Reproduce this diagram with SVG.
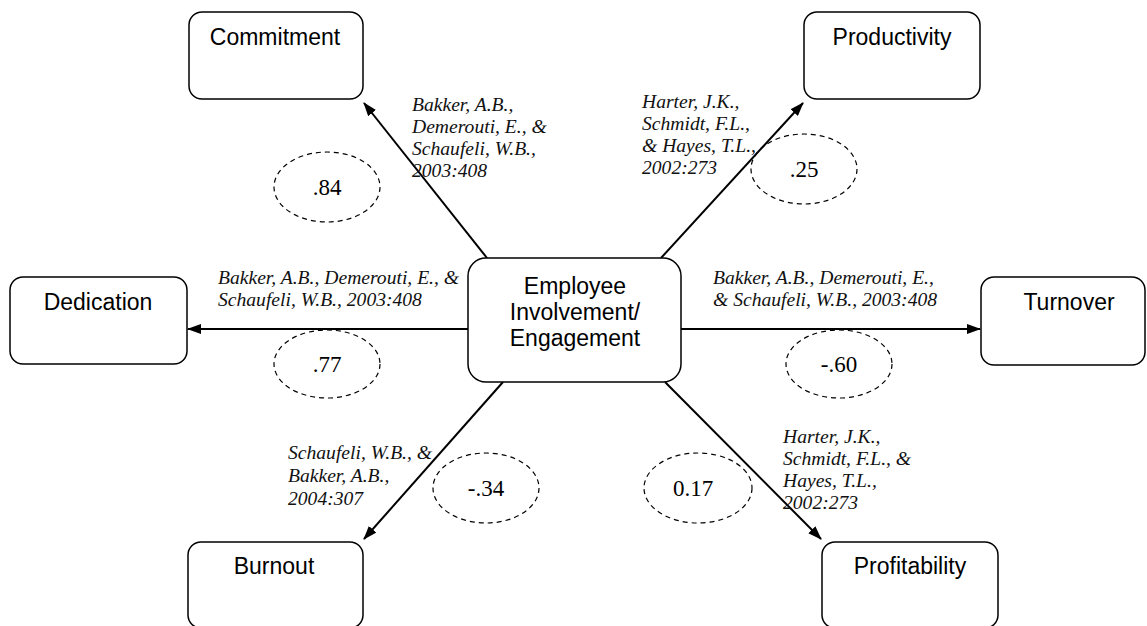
<svg xmlns="http://www.w3.org/2000/svg" width="1147" height="626" viewBox="0 0 1147 626">
  <style>
    .box { fill: #fff; stroke: #000; stroke-width: 1.5; }
    .lbl { font-family: "Liberation Sans", Arial, sans-serif; font-size: 23px; fill: #000; text-anchor: middle; }
    .cite { font-family: "Liberation Serif", "Times New Roman", serif; font-style: italic; font-size: 19.6px; fill: #111; }
    .coef { fill: none; stroke: #000; stroke-width: 1.2; stroke-dasharray: 5 4; }
    .num { font-family: "Liberation Serif", "Times New Roman", serif; font-size: 23px; fill: #000; text-anchor: middle; }
    .link { stroke: #000; stroke-width: 2; fill: none; marker-end: url(#arrow); }
  </style>
  <defs>
    <marker id="arrow" viewBox="0 0 14 10" refX="13" refY="5" markerWidth="14" markerHeight="10" markerUnits="userSpaceOnUse" orient="auto">
      <path d="M0,0 L14,5 L0,10 Z" fill="#000"/>
    </marker>
  </defs>
  <rect width="1147" height="626" fill="#fff"/>

  <!-- connectors from the central node -->
  <g id="connectors">
    <line class="link" x1="487" y1="258" x2="364" y2="103"/>
    <line class="link" x1="661" y1="258" x2="803" y2="103"/>
    <line class="link" x1="468" y1="329" x2="188" y2="329"/>
    <line class="link" x1="681" y1="329" x2="980" y2="329"/>
    <line class="link" x1="503" y1="382" x2="364" y2="539"/>
    <line class="link" x1="665" y1="382" x2="821" y2="539"/>
  </g>

  <g id="center">
    <rect class="box" x="468" y="258" width="213" height="124" rx="18"/>
    <text class="lbl" x="575" y="294">Employee</text>
    <text class="lbl" x="575" y="320">Involvement/</text>
    <text class="lbl" x="575" y="346">Engagement</text>
  </g>

  <g id="commitment">
    <rect class="box" x="189" y="12" width="174" height="87" rx="13"/>
    <text class="lbl" x="275" y="45">Commitment</text>
  </g>
  <g id="productivity">
    <rect class="box" x="804" y="12" width="176" height="87" rx="13"/>
    <text class="lbl" x="892" y="45">Productivity</text>
  </g>
  <g id="dedication">
    <rect class="box" x="10" y="277" width="177" height="87" rx="13"/>
    <text class="lbl" x="98" y="310">Dedication</text>
  </g>
  <g id="turnover">
    <rect class="box" x="981" y="277" width="164" height="88" rx="13"/>
    <text class="lbl" x="1069" y="310">Turnover</text>
  </g>
  <g id="burnout">
    <rect class="box" x="188" y="542" width="175" height="86" rx="13"/>
    <text class="lbl" x="274" y="574">Burnout</text>
  </g>
  <g id="profitability">
    <rect class="box" x="822" y="542" width="176" height="86" rx="13"/>
    <text class="lbl" x="910" y="574">Profitability</text>
  </g>

  <!-- source citations -->
  <g id="cite-commitment" class="cite">
    <text x="412" y="111">Bakker, A.B.,</text>
    <text x="412" y="133">Demerouti, E., &amp;</text>
    <text x="412" y="155">Schaufeli, W.B.,</text>
    <text x="412" y="177">2003:408</text>
  </g>
  <g id="cite-productivity" class="cite">
    <text x="642" y="108">Harter, J.K.,</text>
    <text x="642" y="130">Schmidt, F.L.,</text>
    <text x="642" y="152">&amp; Hayes, T.L.,</text>
    <text x="642" y="174">2002:273</text>
  </g>
  <g id="cite-dedication" class="cite">
    <text x="218" y="284">Bakker, A.B., Demerouti, E., &amp;</text>
    <text x="218" y="306">Schaufeli, W.B., 2003:408</text>
  </g>
  <g id="cite-turnover" class="cite">
    <text x="713" y="284">Bakker, A.B., Demerouti, E.,</text>
    <text x="713" y="306">&amp; Schaufeli, W.B., 2003:408</text>
  </g>
  <g id="cite-burnout" class="cite">
    <text x="288" y="459">Schaufeli, W.B., &amp;</text>
    <text x="288" y="482">Bakker, A.B.,</text>
    <text x="288" y="505">2004:307</text>
  </g>
  <g id="cite-profitability" class="cite">
    <text x="783" y="443">Harter, J.K.,</text>
    <text x="783" y="465">Schmidt, F.L., &amp;</text>
    <text x="783" y="487">Hayes, T.L.,</text>
    <text x="783" y="509">2002:273</text>
  </g>

  <!-- correlation coefficients -->
  <g id="coef-commitment">
    <ellipse class="coef" cx="327" cy="187" rx="53" ry="35"/>
    <text class="num" x="327" y="195">.84</text>
  </g>
  <g id="coef-productivity">
    <ellipse class="coef" cx="804" cy="169" rx="53" ry="35"/>
    <text class="num" x="804" y="177">.25</text>
  </g>
  <g id="coef-dedication">
    <ellipse class="coef" cx="327" cy="364" rx="53" ry="34"/>
    <text class="num" x="327" y="372">.77</text>
  </g>
  <g id="coef-turnover">
    <ellipse class="coef" cx="839" cy="364" rx="53" ry="34"/>
    <text class="num" x="839" y="372">-.60</text>
  </g>
  <g id="coef-burnout">
    <ellipse class="coef" cx="486" cy="488" rx="53" ry="35"/>
    <text class="num" x="486" y="496">-.34</text>
  </g>
  <g id="coef-profitability">
    <ellipse class="coef" cx="698" cy="488" rx="54" ry="35"/>
    <text class="num" x="693" y="496">0.17</text>
  </g>
</svg>
